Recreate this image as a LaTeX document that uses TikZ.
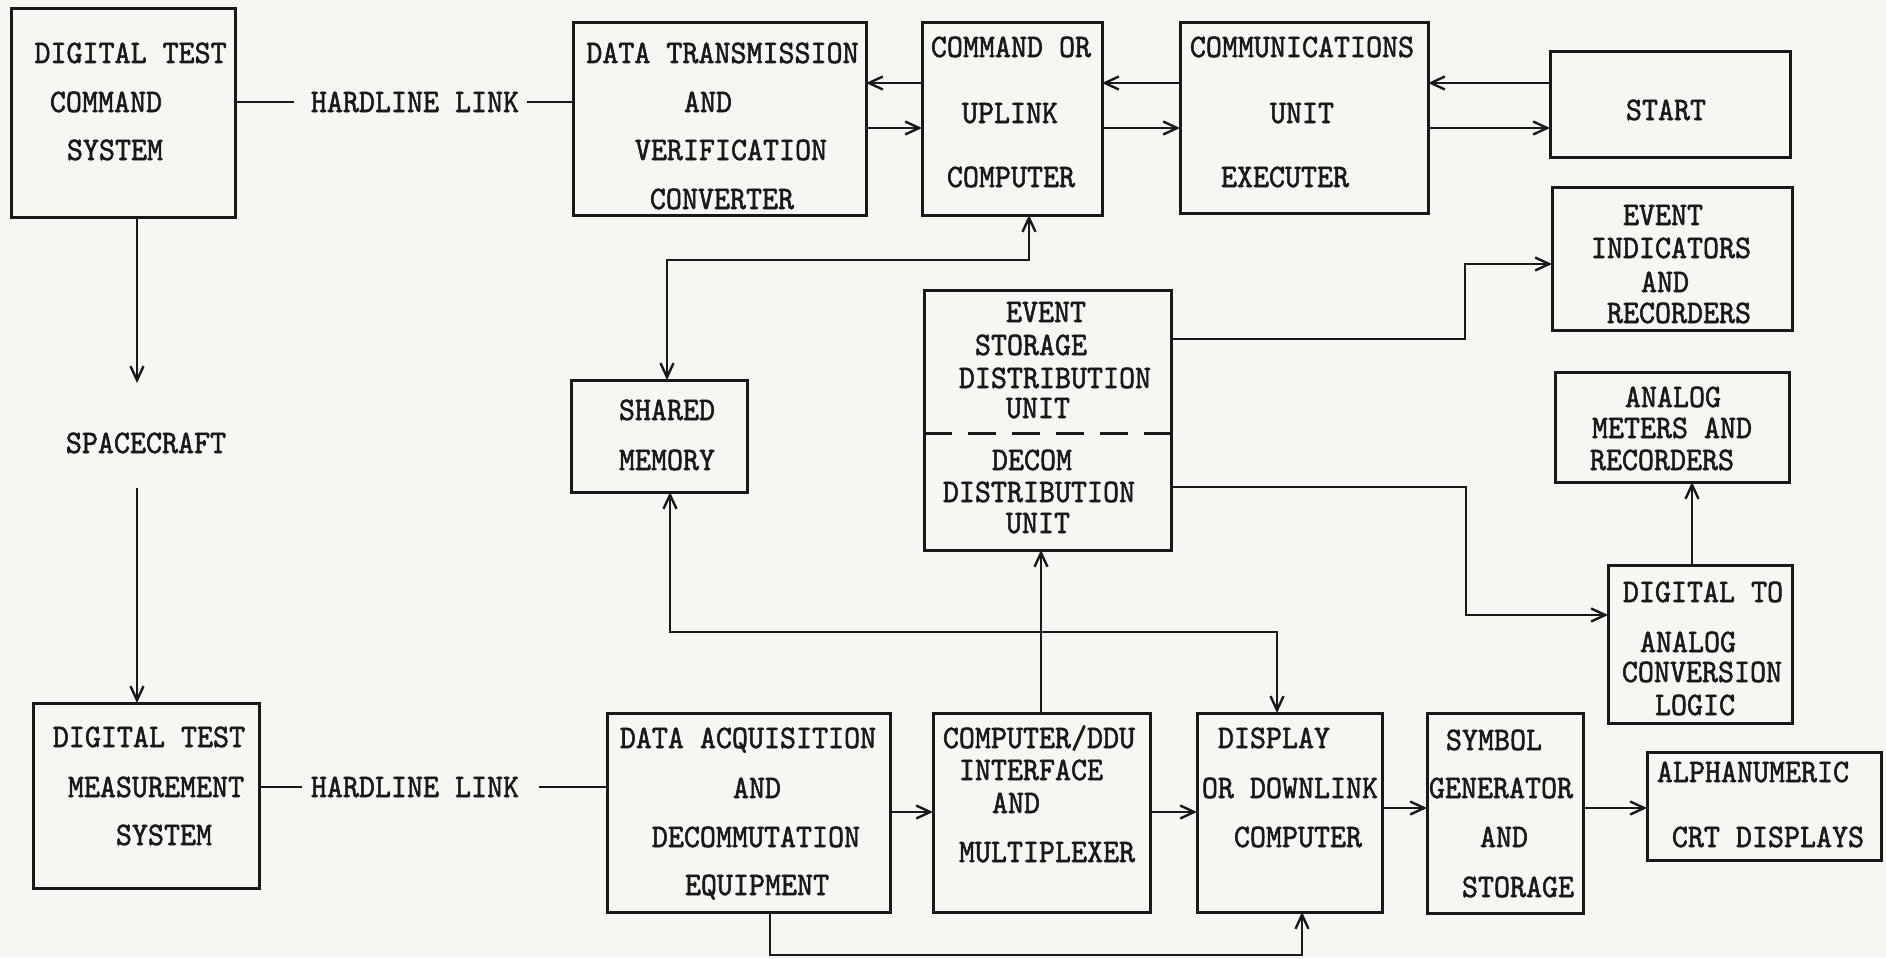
\documentclass[tikz,border=0pt]{standalone}
\usepackage{fontspec}
\newfontfamily\twfont{lmmono10-regular.otf}[FakeBold=1.6,FakeStretch=0.93]
\usetikzlibrary{arrows.meta}
\definecolor{ink}{RGB}{25,25,25}
\definecolor{paper}{RGB}{246,246,243}
\newcommand\lbl[4]{\node[txt] (#1) at (#2,#3) {#4};}
\begin{document}
\begin{tikzpicture}[x=1pt,y=-1pt,
  blk/.style={draw=ink, line width=3pt, inner sep=0pt, outer sep=0pt},
  txt/.style={font=\fontsize{32.8pt}{38pt}\selectfont\twfont, inner sep=0pt, text height=20pt, text depth=0pt, text=ink},
  con/.style={draw=ink, line width=2.4pt},
  arr/.style={con, -{Straight Barb[length=14pt,width=13pt]}},
  arrboth/.style={con, {Straight Barb[length=14pt,width=13pt]}-{Straight Barb[length=14pt,width=13pt]}}]
\fill[paper] (0,0) rectangle (1886,958);
\useasboundingbox (0,0) rectangle (1886,958);

% boxes
\node[blk, minimum width=224pt, minimum height=208pt] (dtcs) at (123,113) {};
\node[blk, minimum width=293pt, minimum height=192pt] (dtvc) at (719.5,119) {};
\node[blk, minimum width=180pt, minimum height=192pt] (cmd) at (1012,119) {};
\node[blk, minimum width=248pt, minimum height=190pt] (comm) at (1304,118) {};
\node[blk, minimum width=240pt, minimum height=105pt] (start) at (1670,104.5) {};
\node[blk, minimum width=240pt, minimum height=143pt] (evind) at (1672,258.5) {};
\node[blk, minimum width=176pt, minimum height=112pt] (shared) at (659,436) {};
\node[blk, minimum width=247pt, minimum height=260pt] (stor) at (1047.5,420) {};
\node[blk, minimum width=234pt, minimum height=110pt] (analog) at (1672,427) {};
\node[blk, minimum width=184pt, minimum height=158pt] (da) at (1700,644) {};
\node[blk, minimum width=226pt, minimum height=185pt] (dtms) at (146,795.5) {};
\node[blk, minimum width=283pt, minimum height=199pt] (daq) at (748.5,812.5) {};
\node[blk, minimum width=217pt, minimum height=199pt] (comp) at (1041.5,812.5) {};
\node[blk, minimum width=185pt, minimum height=199pt] (disp) at (1289.5,812.5) {};
\node[blk, minimum width=156pt, minimum height=200pt] (sym) at (1505,813) {};
\node[blk, minimum width=234pt, minimum height=108pt] (alpha) at (1764,806) {};

% texts
\lbl{dtcsA}{130.6}{53}{DIGITAL TEST}
\lbl{dtcsB}{106}{102}{COMMAND}
\lbl{dtcsC}{115}{150}{SYSTEM}
\lbl{dtvcA}{722.5}{53}{DATA TRANSMISSION}
\lbl{dtvcB}{708}{102}{AND}
\lbl{dtvcC}{731}{150}{VERIFICATION}
\lbl{dtvcD}{722}{199}{CONVERTER}
\lbl{cmdA}{1011}{47}{COMMAND OR}
\lbl{cmdB}{1010}{113}{UPLINK}
\lbl{cmdC}{1011}{177}{COMPUTER}
\lbl{commA}{1302}{47}{COMMUNICATIONS}
\lbl{commB}{1302}{113}{UNIT}
\lbl{commC}{1285}{177}{EXECUTER}
\lbl{startA}{1666}{110}{START}
\lbl{evindA}{1663}{215}{EVENT}
\lbl{evindB}{1671}{248}{INDICATORS}
\lbl{evindC}{1665}{282}{AND}
\lbl{evindD}{1679}{313}{RECORDERS}
\lbl{sharedA}{667}{410}{SHARED}
\lbl{sharedB}{667}{460}{MEMORY}
\lbl{storA}{1046}{312}{EVENT}
\lbl{storB}{1031}{345}{STORAGE}
\lbl{storC}{1055}{378}{DISTRIBUTION}
\lbl{storD}{1038}{408}{UNIT}
\lbl{storE}{1032}{460}{DECOM}
\lbl{storF}{1039}{492}{DISTRIBUTION}
\lbl{storG}{1038}{523}{UNIT}
\lbl{analogA}{1673}{397}{ANALOG}
\lbl{analogB}{1672}{428}{METERS AND}
\lbl{analogC}{1662}{460}{RECORDERS}
\lbl{daA}{1703}{592}{DIGITAL TO}
\lbl{daB}{1688}{642}{ANALOG}
\lbl{daC}{1702}{672}{CONVERSION}
\lbl{daD}{1695}{705}{LOGIC}
\lbl{dtmsA}{149}{737}{DIGITAL TEST}
\lbl{dtmsB}{156}{787}{MEASUREMENT}
\lbl{dtmsC}{164}{835}{SYSTEM}
\lbl{sc}{146}{443}{SPACECRAFT}
\lbl{daqA}{748}{738}{DATA ACQUISITION}
\lbl{daqB}{757}{788}{AND}
\lbl{daqC}{756}{837}{DECOMMUTATION}
\lbl{daqD}{757}{885}{EQUIPMENT}
\lbl{compA}{1039}{738}{COMPUTER/DDU}
\lbl{compB}{1031}{770}{INTERFACE}
\lbl{compC}{1016}{803}{AND}
\lbl{compD}{1047}{852}{MULTIPLEXER}
\lbl{dispA}{1274}{738}{DISPLAY}
\lbl{dispB}{1290}{788}{OR DOWNLINK}
\lbl{dispC}{1298}{837}{COMPUTER}
\lbl{symA}{1494}{740}{SYMBOL}
\lbl{symB}{1501}{788}{GENERATOR}
\lbl{symC}{1504}{837}{AND}
\lbl{symD}{1518}{887}{STORAGE}
\lbl{alphaA}{1753}{772}{ALPHANUMERIC}
\lbl{alphaB}{1768}{837}{CRT DISPLAYS}
\lbl{hl1}{415}{102}{HARDLINE LINK}
\lbl{hl2}{415}{787}{HARDLINE LINK}

% helper coordinates
\coordinate (sctop) at (137,383);
\coordinate (scbot) at (137,488);
\coordinate (h1a) at (294,102);
\coordinate (h1b) at (527,102);
\coordinate (h2a) at (302,787);
\coordinate (h2b) at (539,787);
\coordinate (yu) at (0,83);
\coordinate (yl) at (0,128);
\coordinate (j1) at (667,260);
\coordinate (j2) at (1029,260);
\coordinate (k1) at (670,632);
\coordinate (k2) at (1277,632);
\coordinate (m1) at (1041,0);
\coordinate (e1) at (1465,339);
\coordinate (e2) at (1465,264);
\coordinate (f1) at (1466,487);
\coordinate (f2) at (1466,615);
\coordinate (g1) at (1692,0);
\coordinate (yb1) at (0,812);
\coordinate (yb2) at (0,808);
\coordinate (n1) at (770,955);
\coordinate (n2) at (1302,955);
\coordinate (dsh) at (0,433);

% connectors
\draw[arr] (dtcs.south -| sctop) -- (sctop);
\draw[arr] (scbot) -- (dtms.north -| scbot);
\draw[con] (dtcs.east |- hl1) -- (h1a);
\draw[con] (h1b) -- (dtvc.west |- hl1);
\draw[con] (dtms.east |- hl2) -- (h2a);
\draw[con] (h2b) -- (daq.west |- hl2);
\draw[arr] (cmd.west |- yu) -- (dtvc.east |- yu);
\draw[arr] (dtvc.east |- yl) -- (cmd.west |- yl);
\draw[arr] (comm.west |- yu) -- (cmd.east |- yu);
\draw[arr] (cmd.east |- yl) -- (comm.west |- yl);
\draw[arr] (start.west |- yu) -- (comm.east |- yu);
\draw[arr] (comm.east |- yl) -- (start.west |- yl);
\draw[arrboth] (shared.north -| j1) -- (j1) -- (j2) -- (cmd.south -| j2);
\draw[arrboth] (shared.south -| k1) -- (k1) -- (k2) -- (disp.north -| k2);
\draw[arr] (comp.north -| m1) -- (stor.south -| m1);
\draw[arr] (stor.east |- e1) -- (e1) -- (e2) -- (evind.west |- e2);
\draw[arr] (stor.east |- f1) -- (f1) -- (f2) -- (da.west |- f2);
\draw[arr] (da.north -| g1) -- (analog.south -| g1);
\draw[arr] (daq.east |- yb1) -- (comp.west |- yb1);
\draw[arr] (comp.east |- yb1) -- (disp.west |- yb1);
\draw[arr] (disp.east |- yb2) -- (sym.west |- yb2);
\draw[arr] (sym.east |- yb2) -- (alpha.west |- yb2);
\draw[arr] (daq.south -| n1) -- (n1) -- (n2) -- (disp.south -| n2);
\draw[draw=ink, line width=3pt, dash pattern=on 28pt off 16pt] (stor.west |- dsh) -- (stor.east |- dsh);
\end{tikzpicture}
\end{document}
